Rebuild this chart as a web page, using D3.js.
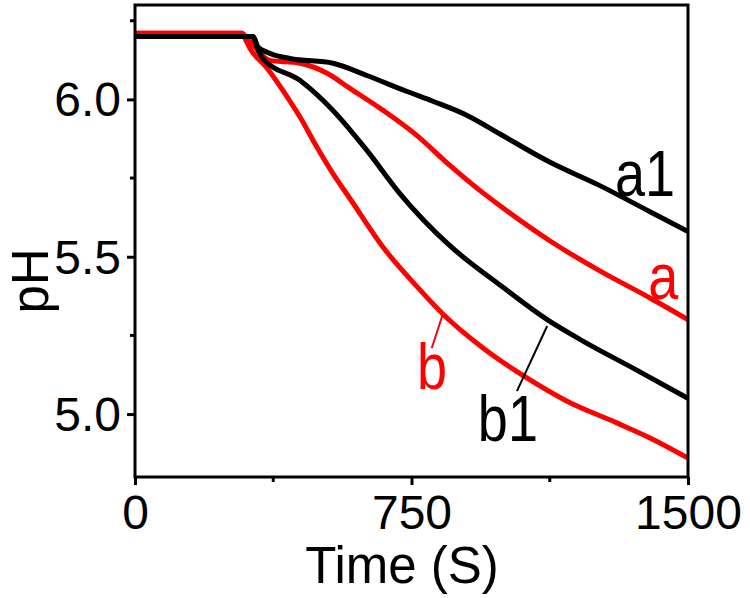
<!DOCTYPE html>
<html>
<head>
<meta charset="utf-8">
<script src="https://cdn.jsdelivr.net/npm/d3@7"></script>
<style>
  body { margin: 0; background: #fff; }
  text { font-family: "Liberation Sans", Arial, sans-serif; }
</style>
</head>
<body>
<div id="chart"></div>
<script>
// time in seconds, pH values
var a1Time = [0, 320, 334, 358, 420, 537, 629, 738, 808, 901, 990, 1126, 1261, 1397, 1500];
var a1PH   = [6.20, 6.20, 6.166, 6.15, 6.13, 6.115, 6.076, 6.025, 5.994, 5.949, 5.89, 5.80, 5.726, 5.643, 5.58];

var aTime = [0, 290, 304, 366, 448, 521, 583, 673, 765, 854, 936, 990, 1126, 1261, 1397, 1500];
var aPH   = [6.21, 6.21, 6.195, 6.124, 6.115, 6.083, 6.035, 5.965, 5.885, 5.79, 5.71, 5.662, 5.55, 5.455, 5.369, 5.30];

var b1Time = [0, 320, 334, 347, 448, 537, 629, 719, 854, 990, 1118, 1215, 1351, 1500];
var b1PH   = [6.20, 6.20, 6.156, 6.13, 6.06, 5.965, 5.838, 5.70, 5.535, 5.41, 5.30, 5.232, 5.146, 5.05];

var bTime = [0, 290, 298, 312, 358, 401, 448, 494, 537, 583, 673, 765, 835, 944, 1063, 1172, 1307, 1397, 1500];
var bPH   = [6.21, 6.21, 6.194, 6.162, 6.10, 6.029, 5.943, 5.847, 5.764, 5.685, 5.53, 5.405, 5.318, 5.21, 5.115, 5.041, 4.972, 4.924, 4.86];

var xTicks = [0, 750, 1500];
var xMinor = [375, 1125];
var yTicks = [5.0, 5.5, 6.0];
var yMinor = [5.25, 5.75, 6.25];

var w = 750, h = 598;
var margin = {left: 135, right: 62, top: 5, bottom: 121};

var svg = d3.select("#chart").append("svg")
            .attr("width", w)
            .attr("height", h);

var x = d3.scaleLinear().domain([0, 1500]).range([margin.left, w - margin.right]);
var y = d3.scaleLinear().domain([4.8, 6.3]).range([h - margin.bottom, margin.top]);

function toPoints(ts, vs) {
    return ts.map(function(t, i) { return [t, vs[i]]; });
}

var line = d3.line()
             .curve(d3.curveMonotoneX)
             .x(function(d) { return x(d[0]); })
             .y(function(d) { return y(d[1]); });

var series = [
    {pts: toPoints(aTime, aPH), color: "#ff0000"},
    {pts: toPoints(bTime, bPH), color: "#ff0000"},
    {pts: toPoints(a1Time, a1PH), color: "#000000"},
    {pts: toPoints(b1Time, b1PH), color: "#000000"}
];

series.forEach(function(s) {
    svg.append("path")
       .datum(s.pts)
       .attr("d", line)
       .attr("fill", "none")
       .attr("stroke", s.color)
       .attr("stroke-width", 5)
       .attr("stroke-linejoin", "round");
});

// frame
svg.append("rect")
   .attr("x", x(0))
   .attr("y", y(6.3))
   .attr("width", x(1500) - x(0))
   .attr("height", y(4.8) - y(6.3))
   .attr("fill", "none")
   .attr("stroke", "#000")
   .attr("stroke-width", 3);

// x axis ticks
var xAxis = d3.axisBottom(x).tickValues(xTicks).tickSize(8).tickSizeOuter(0).tickPadding(6)
              .tickFormat(d3.format("d"));
var gx = svg.append("g").attr("transform", "translate(0," + y(4.8) + ")").call(xAxis);
gx.select(".domain").remove();
gx.selectAll("line").attr("stroke-width", 3);
gx.selectAll("text").attr("font-size", 48).attr("fill", "#000")
  .attr("dy", null).attr("y", 52);
gx.selectAll(".minor").data(xMinor).enter().append("line")
  .attr("x1", function(d) { return x(d); }).attr("x2", function(d) { return x(d); })
  .attr("y1", 0).attr("y2", 5).attr("stroke", "#000").attr("stroke-width", 3);

// y axis ticks
var yAxis = d3.axisLeft(y).tickValues(yTicks).tickSize(8).tickSizeOuter(0).tickPadding(6)
              .tickFormat(d3.format(".1f"));
var gy = svg.append("g").attr("transform", "translate(" + x(0) + ",0)").call(yAxis);
gy.select(".domain").remove();
gy.selectAll("line").attr("stroke-width", 3);
gy.selectAll("text").attr("font-size", 48).attr("fill", "#000")
  .attr("dy", "0.34em").attr("x", -14);
gy.selectAll(".minor").data(yMinor).enter().append("line")
  .attr("y1", function(d) { return y(d); }).attr("y2", function(d) { return y(d); })
  .attr("x1", 0).attr("x2", -5).attr("stroke", "#000").attr("stroke-width", 3);

// axis titles
svg.append("text")
   .attr("x", 402).attr("y", 583)
   .attr("text-anchor", "middle")
   .attr("font-size", 51)
   .text("Time (S)");

svg.append("text")
   .attr("transform", "translate(48,281) rotate(-90)")
   .attr("text-anchor", "middle")
   .attr("font-size", 51)
   .text("pH");

// curve labels
var labels = [
    {text: "a1", t: 1302, v: 5.694, color: "#000"},
    {text: "a",  t: 1392, v: 5.366, color: "#ff0000"},
    {text: "b",  t: 765,  v: 5.08,  color: "#ff0000"},
    {text: "b1", t: 930,  v: 4.914, color: "#000"}
];
labels.forEach(function(l) {
    svg.append("text")
       .attr("transform", "translate(" + x(l.t) + "," + y(l.v) + ") scale(1,1.2)")
       .attr("font-size", 54)
       .attr("fill", l.color)
       .text(l.text);
});

var leaders = [
    {t1: 805, v1: 5.21, t2: 835, v2: 5.318, color: "#ff0000"},
    {t1: 1036, v1: 5.073, t2: 1118, v2: 5.28, color: "#000"}
];
leaders.forEach(function(l) {
    svg.append("line")
       .attr("x1", x(l.t1)).attr("y1", y(l.v1))
       .attr("x2", x(l.t2)).attr("y2", y(l.v2))
       .attr("stroke", l.color)
       .attr("stroke-width", 2);
});
</script>
</body>
</html>
